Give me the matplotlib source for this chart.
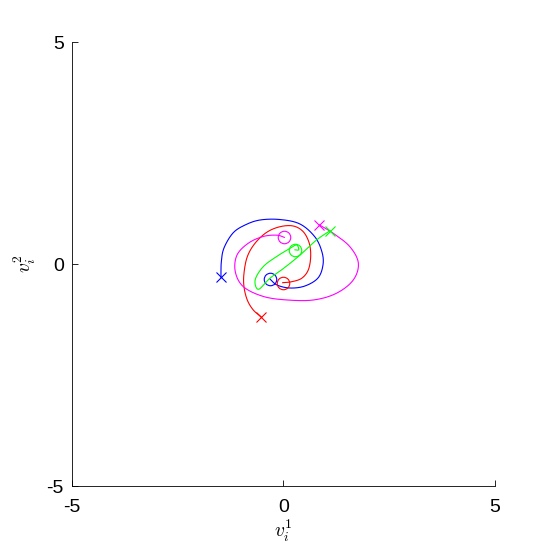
import matplotlib
matplotlib.use("Agg")
import matplotlib.pyplot as plt
import numpy as np

plt.rcParams['font.family'] = ['Liberation Sans', 'DejaVu Sans']
plt.rcParams['mathtext.fontset'] = 'cm'

# trajectories (data coordinates), start at 'x' marker, end at 'o' marker
blue_x = [-1.478, -1.470, -1.407, -1.194, -0.910, -0.556, -0.083, 0.390, 0.745, 0.910, 0.934, 0.816, 0.508, 0.154, -0.154, -0.319]
blue_y = [-0.293, 0.045, 0.360, 0.698, 0.878, 0.991, 1.002, 0.901, 0.608, 0.270, -0.023, -0.315, -0.495, -0.541, -0.473, -0.338]

red_x = [-0.532, -0.714, -0.856, -0.934, -0.934, -0.856, -0.674, -0.397, -0.083, 0.232, 0.468, 0.610, 0.643, 0.586, 0.430, 0.194, -0.019]
red_y = [-1.187, -1.036, -0.811, -0.511, -0.209, 0.164, 0.466, 0.714, 0.840, 0.856, 0.727, 0.466, 0.164, -0.135, -0.322, -0.399, -0.421]

mag_x = [0.85, 1.18, 1.57, 1.77, 1.65, 1.25, 0.71, 0.08, -0.48, -0.95, -1.14, -1.10, -0.83, -0.48, -0.16, 0.02]
mag_y = [0.88, 0.69, 0.39, 0.02, -0.36, -0.66, -0.81, -0.81, -0.73, -0.51, -0.17, 0.20, 0.47, 0.62, 0.65, 0.60]

green_x = [1.10, 0.78, 0.39, -0.00, -0.32, -0.59, -0.67, -0.48, -0.16, 0.15, 0.31, 0.36, 0.27]
green_y = [0.75, 0.54, 0.20, -0.10, -0.32, -0.57, -0.36, -0.06, 0.17, 0.35, 0.43, 0.32, 0.32]

series = [(blue_x, blue_y, 'blue'), (red_x, red_y, 'red'),
          (mag_x, mag_y, 'magenta'), (green_x, green_y, '#00ff00')]

fig = plt.figure(figsize=(5.47, 5.47), dpi=100)
ax = fig.add_axes([0.1316, 0.1115, 0.7733, 0.8117])


def smooth(xs, ys, n=20):
    P = np.column_stack([xs, ys])
    Pp = np.vstack([2 * P[0] - P[1], P, 2 * P[-1] - P[-2]])
    out = []
    for i in range(len(P) - 1):
        p0, p1, p2, p3 = Pp[i], Pp[i + 1], Pp[i + 2], Pp[i + 3]
        for s in np.linspace(0, 1, n, endpoint=False):
            out.append(0.5 * ((2 * p1) + (-p0 + p2) * s + (2 * p0 - 5 * p1 + 4 * p2 - p3) * s ** 2
                              + (-p0 + 3 * p1 - 3 * p2 + p3) * s ** 3))
    out.append(P[-1])
    return np.array(out)


for xs, ys, c in series:
    out = smooth(xs, ys)
    ax.plot(out[:, 0], out[:, 1], color=c, lw=0.8)
    ax.plot(xs[0], ys[0], 'x', color=c, ms=6.5, mew=0.8)
    ax.plot(xs[-1], ys[-1], 'o', color=c, ms=9, mfc='none', mew=0.8)

ax.set_xlim(-5, 5)
ax.set_ylim(-5, 5)
ax.set_xticks([-5, 0, 5])
ax.set_yticks([-5, 0, 5])
ax.set_xticklabels(['-5', '0', '5'])
ax.set_yticklabels(['-5', '0', '5'])
ax.tick_params(direction='in', length=4, width=0.6, labelsize=14)
ax.tick_params(axis='x', pad=9)
ax.tick_params(axis='y', pad=6)
for s in ['top', 'right']:
    ax.spines[s].set_visible(False)
for s in ['left', 'bottom']:
    ax.spines[s].set_linewidth(0.6)
ax.set_xlabel(r'$v_i^1$', fontsize=14, labelpad=2)
ax.set_ylabel(r'$v_i^2$', fontsize=14, labelpad=6)

fig.savefig('out.png', dpi=100)
